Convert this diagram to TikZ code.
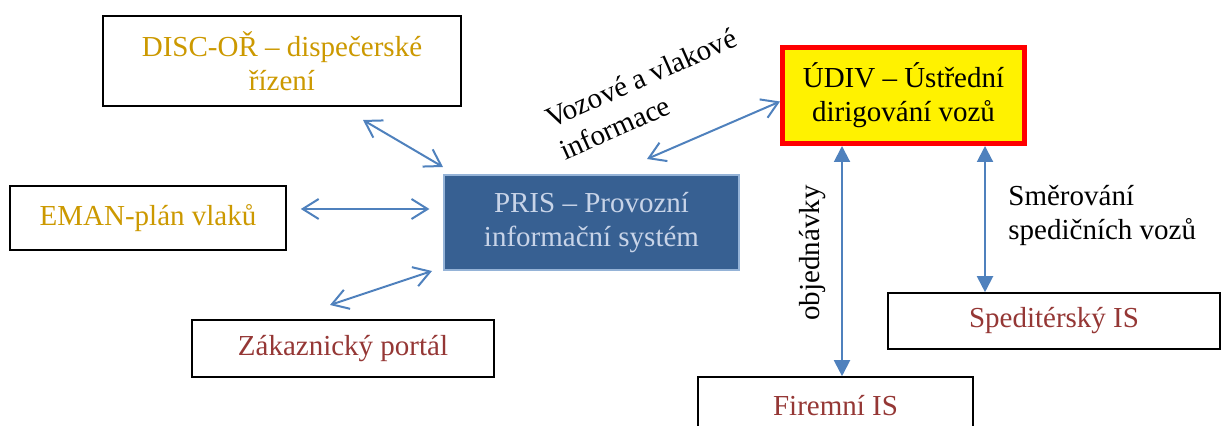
\documentclass[tikz,border=0pt]{standalone}
\usepackage{fontspec}
\setmainfont{Liberation Serif}
\usetikzlibrary{arrows.meta}

\definecolor{discgold}{RGB}{204,153,0}
\definecolor{isred}{RGB}{149,55,53}
\definecolor{linkblue}{RGB}{79,129,189}
\definecolor{prisfill}{RGB}{55,96,146}
\definecolor{prisedge}{RGB}{149,179,215}
\definecolor{pristext}{RGB}{200,212,232}

\begin{document}
\begin{tikzpicture}[
  x=0.5pt, y=-0.5pt,
  box/.style={draw=black, line width=0.8pt, fill=white, align=center, text=#1, inner sep=0pt},
  link/.style={draw=linkblue, line width=1pt, {Straight Barb[length=8pt,width=10pt]}-{Straight Barb[length=8pt,width=10pt]}},
  vlink/.style={draw=linkblue, line width=1pt, {Triangle[length=8pt,width=8pt]}-{Triangle[length=8pt,width=8pt]}},
  font=\fontsize{14.5pt}{17pt}\selectfont
]
\useasboundingbox (0,0) rectangle (1224,426);

% === Box centres (pixel grid) ===
\coordinate (D) at (282,61);      % dispecerske rizeni
\coordinate (E) at (148,218);     % plan vlaku
\coordinate (Z) at (343,348.5);   % zakaznicky portal
\coordinate (P) at (591.5,222.5); % PRIS
\coordinate (U) at (903.5,95.5);  % UDIV
\coordinate (S) at (1054,321);    % speditersky IS
\coordinate (F) at (835.5,405.5); % firemni IS

% === Boxes ===
\node[box=discgold, minimum width=179pt, minimum height=45pt] (disc) at (D) {DISC-OŘ – dispečerské\\řízení};
\node[box=discgold, minimum width=138pt, minimum height=32pt] (eman) at (E) {EMAN-plán vlaků};
\node[box=isred, minimum width=151pt, minimum height=28.5pt] (zak) at (Z) {Zákaznický portál};
\node[draw=prisedge, line width=0.6pt, fill=prisfill, text=pristext, align=center,
      minimum width=147.5pt, minimum height=47.5pt] (pris) at (P) {PRIS – Provozní\\informační systém};
\node[draw=red, line width=2.5pt, fill=yellow, align=center,
      minimum width=121pt, minimum height=48pt] (udiv) at (U) {ÚDIV – Ústřední\\dirigování vozů};
\node[box=isred, minimum width=166pt, minimum height=28pt] (sped) at (S) {Speditérský IS};
\node[box=isred, minimum width=137.5pt, minimum height=28.5pt] (firm) at (F) {Firemní IS};

% === Arrow ends that float ===
\coordinate (discP) at (363,120);
\coordinate (prisD) at (443,167);
\coordinate (zakP) at (330,305);
\coordinate (prisZ) at (432,271);
\coordinate (prisU) at (647,159);

% === Links around PRIS ===
\draw[link] (discP) -- (prisD);
\draw[link, shorten <=7pt, shorten >=7pt] ([yshift=4.5pt]eman.east) -- ([yshift=4.5pt]eman.east -| pris.west);
\draw[link] (zakP) -- (prisZ);
\draw[link] (prisU) -- ([yshift=-3pt]udiv.west);

% === Links below UDIV ===
\draw[vlink] ([xshift=-30.75pt]udiv.south) -- ([xshift=-30.75pt]udiv.south |- firm.north);
\draw[vlink] ([xshift=40.75pt]udiv.south) -- ([xshift=40.75pt]udiv.south |- sped.north);

% === Labels ===
\node[rotate=24, align=left, font=\fontsize{14.5pt}{17.5pt}\selectfont] (vlabel) at (648,94) {Vozové a vlakové\\informace};
\node[rotate=90] (olabel) at (813,253) {objednávky};
\node[anchor=north west, align=left, inner sep=0pt] (slabel) at (1008,185) {Směrování\\spedičních vozů};

\end{tikzpicture}
\end{document}
